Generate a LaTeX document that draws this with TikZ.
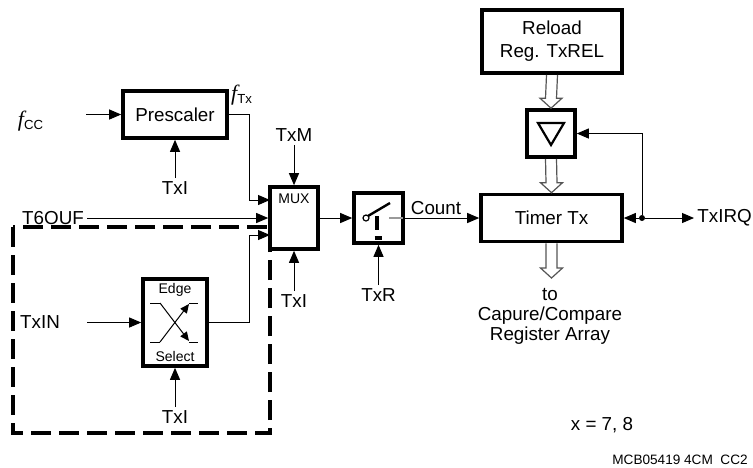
\documentclass[tikz,border=0pt]{standalone}
\usepackage{fontspec}
\setmainfont{Liberation Sans}
\newfontfamily\fserif{Liberation Serif}
\usetikzlibrary{arrows.meta,positioning,calc}
\definecolor{busgray}{HTML}{555555}
\definecolor{stubgray}{HTML}{9A9A9A}

% hollow double-line bus arrow
\newcommand{\busarrow}[2]{%
  \draw[bus] ($(#1)+(-5.5,0)$) -- ($(#2)+(-5.5,-10)$) -- ($(#2)+(-11,-10)$)
    -- (#2) -- ($(#2)+(11,-10)$) -- ($(#2)+(5.5,-10)$) -- ($(#1)+(5.5,0)$);}
\newcommand{\fsig}[1]{{\fontsize{11}{11}\fserif\itshape f}\textsubscript{#1}}

\begin{document}
\begin{tikzpicture}[
  x=0.5pt, y=-0.5pt,
  font=\fontsize{9.4}{11}\selectfont,
  >={Triangle[length=6pt,width=5pt]},
  blk/.style={draw, line width=1.8pt, inner sep=0pt, align=center},
  lbl/.style={inner sep=1.5pt},
  small/.style={font=\fontsize{7}{8}\selectfont, inner sep=1pt},
  sig/.style={->, line width=0.5pt},
  bus/.style={draw=busgray, line width=0.6pt, line join=miter},
  selbox/.style={line width=2.4pt, dash pattern=on 10pt off 4pt},
]
\useasboundingbox (0,0) rectangle (753,467);

% ---- blocks ----
\node[blk, minimum width=52pt, minimum height=23.5pt] (pre) at (175,114.5) {Prescaler};
\node[blk, minimum width=24pt, minimum height=31pt] (mux) at (294,218) {};
\node[small, below=3pt of mux.north] (muxtxt) {MUX};
\node[blk, minimum width=32pt, minimum height=43.5pt] (edge) at (175,322.5) {};
\node[small, below=2pt of edge.north] (edgetxt) {Edge};
\node[small, above=2pt of edge.south] (seltxt) {Select};
\node[blk, minimum width=24.5pt, minimum height=25pt] (sw) at (378.5,218) {};
\node[blk, minimum width=70.5pt, minimum height=23.5pt] (timer) at (551.5,218) {Timer Tx};
\node[blk, minimum width=70pt, minimum height=31.5pt,
      font=\fontsize{9.4}{11.5}\selectfont] (relbox) at (552,41.5) {Reload\\Reg. TxREL};
\node[blk, minimum width=24pt, minimum height=23.5pt] (gate) at (551,133.5) {};

% ---- labels ----
\node[lbl] (fcc) at (31,121) {\fsig{CC}};
\node[lbl] (ftx) at (242,95) {\fsig{Tx}};
\node[lbl] (txipre) at (175,188) {TxI};
\node[lbl] (txm) at (294,135) {TxM};
\node[lbl] (tximux) at (294,301) {TxI};
\node[lbl] (t6) at (53,218) {T6OUF};
\node[lbl] (txin) at (40,322.5) {TxIN};
\node[lbl] (txiedge) at (175,417) {TxI};
\node[lbl] (txr) at (378.5,295) {TxR};
\node[lbl, anchor=west] (irq) at (694,218) {TxIRQ};
\node[lbl, align=center, font=\fontsize{9.4}{10}\selectfont] (capt) at (550,316) {to\\Capure/Compare\\Register Array};
\node[lbl] (xval) at (602,425) {x = 7, 8};
\node[lbl, font=\fontsize{6.8}{8}\selectfont] (code) at (680,460) {MCB05419 4CM\ \ CC2};

% ---- connection points ----
\coordinate (fccin) at (86,114.5);
\coordinate (txinin) at (87,322.5);
\coordinate (muxa) at (270,200);
\coordinate (muxc) at (270,235);
\coordinate (capout) at (551.5,278);
\node[circle, fill, inner sep=0pt, minimum size=3pt] (dot) at (642,218) {};

% ---- dashed edge-select area ----
\draw[selbox] (13,227) rectangle (270,433);

% ---- signal lines ----
\draw[sig] (fccin) -- (pre);
\draw[sig] (txipre) -- (pre);
\draw[sig] (pre.east) -- ++(21,0) |- (muxa);
\draw[sig] (t6) -- (t6 -| mux.west);
\draw[sig] (edge.east) -- ++(41,0) |- (muxc);
\draw[sig] (txm) -- (mux);
\draw[sig] (tximux) -- (mux);
\draw[sig] (txinin) -- (edge);
\draw[sig] (txiedge) -- (edge);
\draw[sig] (mux) -- (sw);
\draw[sig] (txr) -- (sw);
\draw[sig] (sw) -- node[lbl, above, pos=0.42] (cnt) {Count} (timer);
\draw[sig] (dot) -- (timer);
\draw[sig] (dot) -- (irq);
\draw[sig] (dot) |- (gate);

% ---- buses ----
\busarrow{relbox.south}{gate.north}
\busarrow{gate.south}{timer.north}
\busarrow{timer.south}{capout}

% ---- block symbols ----
\begin{scope}[shift={(gate.center)}]
  \draw[line width=1.1pt, line join=miter] (-13,-10.5) -- (13,-10.5) -- (0,11.5) -- cycle;
\end{scope}
\begin{scope}[shift={(edge.center)}, line width=0.5pt,
              >={Triangle[length=4.5pt,width=4pt]}]
  \draw (-25,-19.5) -- (-15,-19.5);
  \draw[->] (-15,-19.5) -- (14,18.5);
  \draw (14,19.5) -- (23,19.5);
  \draw (-25,19.5) -- (-15,19.5);
  \draw[->] (-15,19.5) -- (14,-18.5);
  \draw (14,-19.5) -- (23,-19.5);
\end{scope}
\begin{scope}[shift={(sw.center)}]
  \draw[line width=0.6pt] (-12.5,0) circle[radius=1.5pt];
  \draw[line width=1.2pt] (-10.5,-2) -- (11.5,-15);
  \draw[line width=2.4pt] (-1.5,-2) -- (-1.5,12);
  \draw[line width=2pt] (-4,20) -- (3.5,20);
  \draw[stubgray, line width=0.8pt] (10.5,0) -- (24.5,0);
\end{scope}
\end{tikzpicture}
\end{document}
